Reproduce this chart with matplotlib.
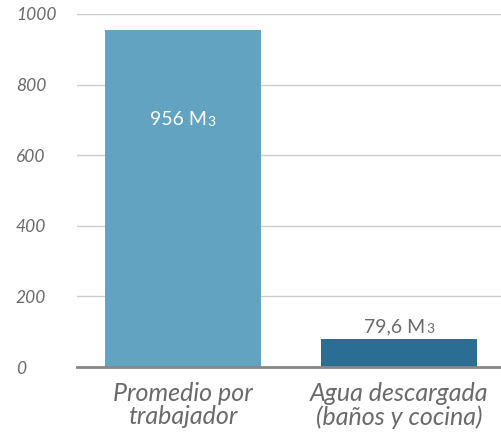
import matplotlib
matplotlib.use("Agg")
import matplotlib.pyplot as plt

categories = ["Promedio por\ntrabajador", "Agua descargada\n(baños y cocina)"]
values = [956, 79.6]
value_labels = ["956 M", "79,6 M"]
unit_sub = "3"
bar_colors = ["#62A3C2", "#2A6F93"]
yticks = [0, 200, 400, 600, 800, 1000]

plt.rcParams['font.family'] = ['Lato', 'DejaVu Sans']

fig = plt.figure(figsize=(5.01, 4.37), dpi=100)
ax = fig.add_axes([77/501, (437-367)/437, 1-77/501, (367-14)/437])

x = list(range(len(categories)))
ax.bar(x, values, width=0.72, color=bar_colors, zorder=2)
ax.set_xlim(-0.49, 1.47)
ax.set_ylim(0, 1000)

ax.set_yticks(yticks)
ax.set_yticklabels([str(t) for t in yticks])
for lbl in ax.get_yticklabels():
    lbl.set_fontsize(12.5)
    lbl.set_fontstyle('italic')
    lbl.set_color('#6a6a6a')
    lbl.set_horizontalalignment('left')
ax.tick_params(axis='y', length=0, pad=44)
ax.yaxis.grid(True, color='#cccccc', linewidth=1, zorder=0)
ax.set_axisbelow(True)

ax.set_xticks(x)
ax.set_xticklabels(categories)
for lbl in ax.get_xticklabels():
    lbl.set_fontsize(18)
    lbl.set_fontstyle('italic')
    lbl.set_color('#6a6a6a')
    lbl.set_linespacing(1.0)
ax.tick_params(axis='x', length=0, pad=11)

for s in ['top', 'right', 'left']:
    ax.spines[s].set_visible(False)
ax.spines['bottom'].set_color('#888888')
ax.spines['bottom'].set_linewidth(2)

label_y = [685, 98]
label_colors = ['white', '#6a6a6a']
for xi, lab, ly, c in zip(x, value_labels, label_y, label_colors):
    t = ax.text(xi - 0.02, ly, lab, ha='center', va='baseline', fontsize=14,
                color=c, zorder=3)
    ax.annotate(unit_sub, xy=(1, 0), xycoords=t, xytext=(0.5, 0), textcoords='offset points',
                ha='left', va='bottom', fontsize=10, color=c, zorder=3)

fig.savefig("out.png", dpi=100)
